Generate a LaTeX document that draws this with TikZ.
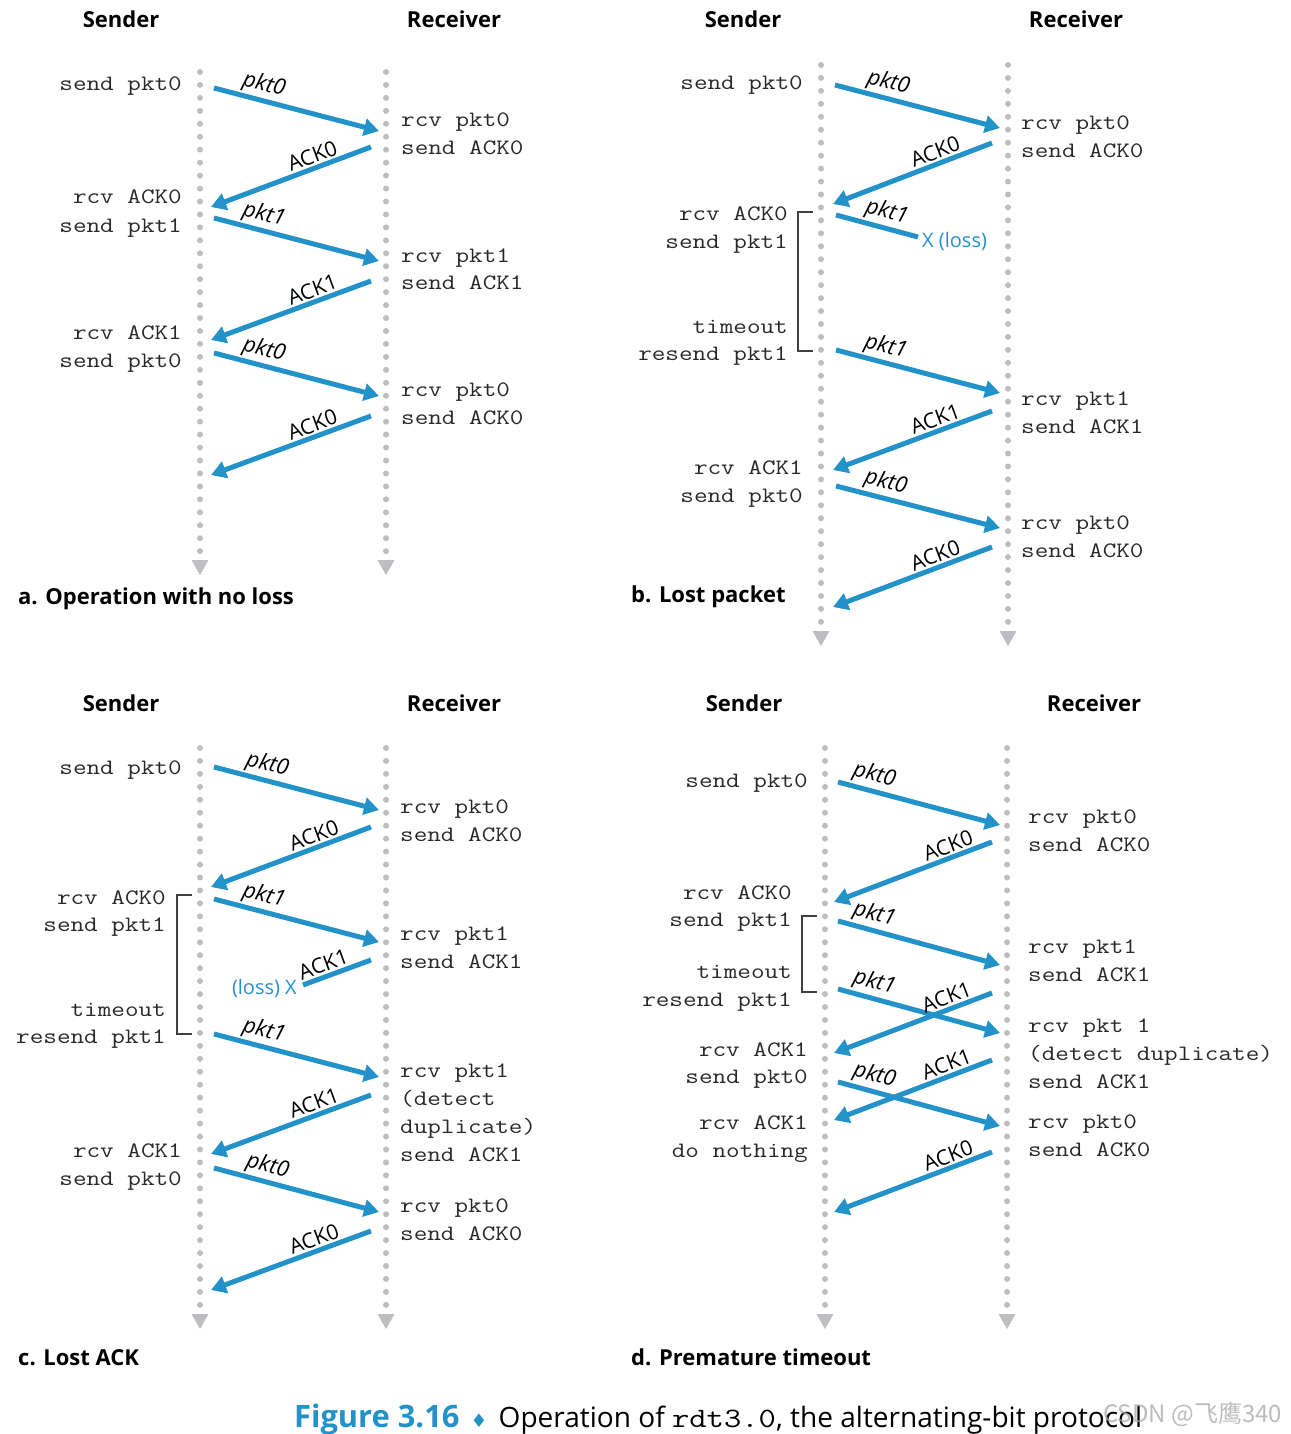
\documentclass[tikz,border=0pt]{standalone}
\usepackage{fontspec}
\setmainfont{Open Sans}
\newfontfamily\monof[FakeStretch=1.2]{Latin Modern Mono}
\newfontfamily\symf{DejaVu Sans}
\newfontfamily\cjkf{Noto Sans CJK SC}
\usetikzlibrary{arrows.meta}
\definecolor{arrowblue}{RGB}{35,146,200}
\definecolor{dotgray}{RGB}{190,190,194}
\definecolor{monotext}{RGB}{40,40,40}
\tikzset{
  msgline/.style={line width=5pt, draw=arrowblue, -{Triangle[length=15pt,width=17pt]}},
  lossline/.style={line width=5pt, draw=arrowblue},
  mlabel/.style={font=\fontsize{22}{22}\selectfont\itshape, text=black, sloped, above, inner sep=2pt},
  alabel/.style={font=\fontsize{21}{21}\selectfont, text=black, sloped, above, inner sep=2pt},
  mono/.style={font=\monof\fontsize{22}{22}\selectfont, text=monotext, inner sep=0pt},
  head/.style={font=\bfseries\fontsize{22}{22}\selectfont, inner sep=0pt, anchor=base},
  panelcap/.style={font=\bfseries\fontsize{22}{22}\selectfont, inner sep=0pt, anchor=base west},
  losstext/.style={font=\fontsize{20}{20}\selectfont, text=arrowblue, inner sep=0pt},
  tline/.style={line width=6pt, draw=dotgray, line cap=round, dash pattern=on 0pt off 12.95pt},
  bracketline/.style={line width=1.3pt, draw=black!75},
}
\newcommand\tlinedraw[4]{%
  \coordinate (#1t) at (#2,#3);
  \coordinate (#1b) at (#2,#4);
  \draw[tline] (#1t) -- (#1b);
  \fill[dotgray] ({#2-8.5},{#4+7}) -- ({#2+8.5},{#4+7}) -- (#2,{#4+22}) -- cycle;
}
% packet message (italic label)
\newcommand\pktarrow[7]{%
  \coordinate (#1s) at (#2,#3);
  \coordinate (#1e) at (#4,#5);
  \draw[msgline] (#1s) -- node[mlabel,pos=#7] (#1l) {#6} (#1e);
}
% ACK message (upright label)
\newcommand\ackarrow[7]{%
  \coordinate (#1s) at (#2,#3);
  \coordinate (#1e) at (#4,#5);
  \draw[msgline] (#1s) -- node[alabel,pos=#7] (#1l) {#6} (#1e);
}
\newcommand\lefttxt[4]{\node[mono,anchor=base east] (#1) at (#2,#3) {#4};}
\newcommand\righttxt[4]{\node[mono,anchor=base west] (#1) at (#2,#3) {#4};}
\begin{document}
\begin{tikzpicture}[x=1pt,y=-1pt]
\useasboundingbox (0,0) rectangle (1290,1434);
% ---------- panel a ----------
\node[head] (aSh) at (121,28) {Sender};
\node[head] (aRh) at (454,28) {Receiver};
\tlinedraw{aS}{200}{72}{553}
\tlinedraw{aR}{386}{72}{553}
\pktarrow{a1}{214}{88}{379}{131}{pkt0}{0.28}
\ackarrow{a2}{371}{147}{211}{207}{ACK0}{0.34}
\pktarrow{a3}{214}{218}{379}{261}{pkt1}{0.28}
\ackarrow{a4}{371}{281}{211}{340}{ACK1}{0.34}
\pktarrow{a5}{214}{353}{379}{396}{pkt0}{0.28}
\ackarrow{a6}{371}{416}{211}{475}{ACK0}{0.34}
\lefttxt{aL1}{182}{91}{send pkt0}
\lefttxt{aL2}{182}{204}{rcv ACK0}
\lefttxt{aL3}{182}{232}{send pkt1}
\lefttxt{aL4}{182}{339}{rcv ACK1}
\lefttxt{aL5}{182}{367}{send pkt0}
\righttxt{aR1}{401}{127}{rcv pkt0}
\righttxt{aR2}{401}{155}{send ACK0}
\righttxt{aR3}{401}{262}{rcv pkt1}
\righttxt{aR4}{401}{289}{send ACK1}
\righttxt{aR5}{401}{396}{rcv pkt0}
\righttxt{aR6}{401}{424}{send ACK0}
\node[panelcap] (acap) at (18,604) {a. Operation with no loss};
% ---------- panel b ----------
\node[head] (bSh) at (743,28) {Sender};
\node[head] (bRh) at (1076,28) {Receiver};
\tlinedraw{bS}{821}{65}{624}
\tlinedraw{bR}{1008}{65}{624}
\pktarrow{b1}{835}{85}{1000}{128}{pkt0}{0.3}
\ackarrow{b2}{992}{143}{833}{204}{ACK0}{0.33}
\coordinate (b3s) at (836,215);
\coordinate (b3e) at (918,237);
\draw[lossline] (b3s) -- node[mlabel,pos=0.57] (b3l) {pkt1} (b3e);
\node[losstext,anchor=west] (bX) at (922,241) {X (loss)};
\pktarrow{b4}{836}{350}{1000}{393}{pkt1}{0.28}
\ackarrow{b5}{992}{411}{833}{470}{ACK1}{0.33}
\pktarrow{b6}{836}{486}{1000}{528}{pkt0}{0.28}
\ackarrow{b7}{992}{547}{833}{607}{ACK0}{0.33}
\coordinate (bB1) at (813,212);
\coordinate (bB2) at (798,212);
\coordinate (bB3) at (798,351);
\coordinate (bB4) at (813,351);
\draw[bracketline] (bB1) -- (bB2) -- (bB3) -- (bB4);
\lefttxt{bL1}{803}{90}{send pkt0}
\lefttxt{bL2}{788}{220}{rcv ACK0}
\lefttxt{bL3}{788}{248}{send pkt1}
\lefttxt{bL4}{788}{333}{timeout}
\lefttxt{bL5}{788}{360}{resend pkt1}
\lefttxt{bL6}{803}{474}{rcv ACK1}
\lefttxt{bL7}{803}{502}{send pkt0}
\righttxt{bR1}{1021}{130}{rcv pkt0}
\righttxt{bR2}{1021}{158}{send ACK0}
\righttxt{bR3}{1021}{405}{rcv pkt1}
\righttxt{bR4}{1021}{433}{send ACK1}
\righttxt{bR5}{1021}{529}{rcv pkt0}
\righttxt{bR6}{1021}{557}{send ACK0}
\node[panelcap] (bcap) at (631,602) {b. Lost packet};
% ---------- panel c ----------
\node[head] (cSh) at (121,711) {Sender};
\node[head] (cRh) at (454,711) {Receiver};
\tlinedraw{cS}{200}{748}{1307}
\tlinedraw{cR}{386}{748}{1307}
\pktarrow{c1}{214}{767}{379}{810}{pkt0}{0.3}
\ackarrow{c2}{371}{827}{211}{887}{ACK0}{0.33}
\pktarrow{c3}{214}{899}{379}{942}{pkt1}{0.28}
\coordinate (c4s) at (371,960);
\coordinate (c4e) at (303,985);
\draw[lossline] (c4s) -- node[alabel,pos=0.64] (c4l) {ACK1} (c4e);
\node[losstext,anchor=east] (cX) at (297,988) {(loss) X};
\pktarrow{c5}{214}{1034}{379}{1077}{pkt1}{0.28}
\ackarrow{c6}{371}{1095}{211}{1154}{ACK1}{0.33}
\pktarrow{c7}{214}{1168}{379}{1212}{pkt0}{0.3}
\ackarrow{c8}{371}{1231}{211}{1290}{ACK0}{0.33}
\coordinate (cB1) at (192,895);
\coordinate (cB2) at (177,895);
\coordinate (cB3) at (177,1034);
\coordinate (cB4) at (192,1034);
\draw[bracketline] (cB1) -- (cB2) -- (cB3) -- (cB4);
\lefttxt{cL1}{182}{774}{send pkt0}
\lefttxt{cL2}{166}{904}{rcv ACK0}
\lefttxt{cL3}{166}{931}{send pkt1}
\lefttxt{cL4}{166}{1016}{timeout}
\lefttxt{cL5}{166}{1043}{resend pkt1}
\lefttxt{cL6}{182}{1157}{rcv ACK1}
\lefttxt{cL7}{182}{1185}{send pkt0}
\righttxt{cR1}{400}{813}{rcv pkt0}
\righttxt{cR2}{400}{841}{send ACK0}
\righttxt{cR3}{400}{940}{rcv pkt1}
\righttxt{cR4}{400}{968}{send ACK1}
\righttxt{cR5}{400}{1077}{rcv pkt1}
\righttxt{cR6}{400}{1105}{(detect}
\righttxt{cR7}{400}{1133}{duplicate)}
\righttxt{cR8}{400}{1161}{send ACK1}
\righttxt{cR9}{400}{1212}{rcv pkt0}
\righttxt{cR10}{400}{1240}{send ACK0}
\node[panelcap] (ccap) at (18,1365) {c. Lost ACK};
% ---------- panel d ----------
\node[head] (dSh) at (744,711) {Sender};
\node[head] (dRh) at (1094,711) {Receiver};
\tlinedraw{dS}{825}{748}{1307}
\tlinedraw{dR}{1007}{748}{1307}
\pktarrow{d1}{838}{782}{1000}{825}{pkt0}{0.2}
\ackarrow{d2}{992}{842}{834}{902}{ACK0}{0.25}
\pktarrow{d3}{838}{921}{1000}{965}{pkt1}{0.2}
\pktarrow{d4}{838}{989}{1000}{1033}{pkt1}{0.2}
\ackarrow{d5}{992}{993}{834}{1053}{ACK1}{0.26}
\pktarrow{d6}{838}{1082}{1000}{1126}{pkt0}{0.2}
\ackarrow{d7}{992}{1060}{834}{1120}{ACK1}{0.26}
\ackarrow{d8}{992}{1152}{834}{1212}{ACK0}{0.25}
\coordinate (dB1) at (817,916);
\coordinate (dB2) at (802,916);
\coordinate (dB3) at (802,992);
\coordinate (dB4) at (817,992);
\draw[bracketline] (dB1) -- (dB2) -- (dB3) -- (dB4);
\lefttxt{dL1}{808}{787}{send pkt0}
\lefttxt{dL2}{792}{899}{rcv ACK0}
\lefttxt{dL3}{792}{926}{send pkt1}
\lefttxt{dL4}{792}{978}{timeout}
\lefttxt{dL5}{792}{1006}{resend pkt1}
\lefttxt{dL6}{808}{1056}{rcv ACK1}
\lefttxt{dL7}{808}{1083}{send pkt0}
\lefttxt{dL8}{808}{1129}{rcv ACK1}
\lefttxt{dL9}{808}{1157}{do nothing}
\righttxt{dR1}{1028}{823}{rcv pkt0}
\righttxt{dR2}{1028}{851}{send ACK0}
\righttxt{dR3}{1028}{953}{rcv pkt1}
\righttxt{dR4}{1028}{981}{send ACK1}
\righttxt{dR5}{1028}{1032}{rcv pkt 1}
\righttxt{dR6}{1028}{1060}{(detect duplicate)}
\righttxt{dR7}{1028}{1088}{send ACK1}
\righttxt{dR8}{1028}{1128}{rcv pkt0}
\righttxt{dR9}{1028}{1156}{send ACK0}
\node[panelcap] (dcap) at (631,1365) {d. Premature timeout};
% ---------- figure caption ----------
\node[anchor=base west, inner sep=0pt] (figcap) at (294,1427) {\resizebox{848pt}{!}{\fontsize{30}{30}\selectfont{\color{arrowblue}\bfseries\fontsize{33}{33}\selectfont Figure 3.16}\hspace{0.4em}{\symf\color{arrowblue}\fontsize{20}{20}\selectfont ♦}\hspace{0.4em}Operation of {\monof rdt3.0}, the alternating-bit protocol}};
\node[anchor=base west, inner sep=0pt, text=black!35, opacity=0.75, font=\cjkf\fontsize{24}{24}\selectfont] (wm) at (1103,1422) {CSDN @飞鹰340};
\end{tikzpicture}
\end{document}
